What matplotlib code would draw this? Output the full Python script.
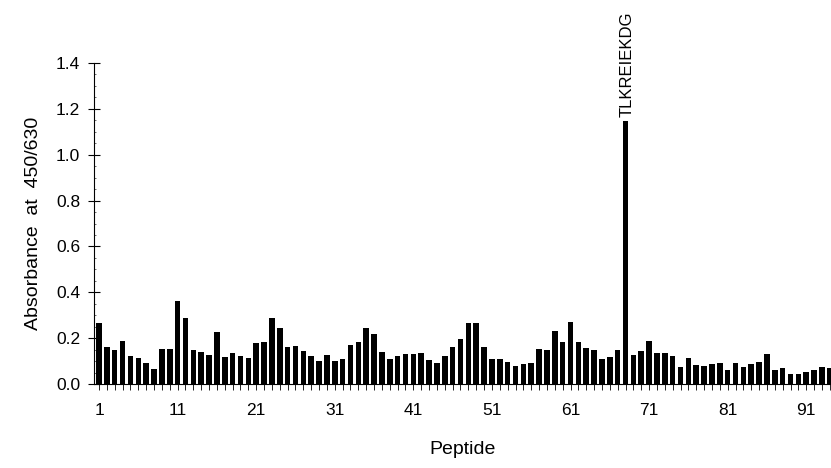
import matplotlib.pyplot as plt
from matplotlib.ticker import MultipleLocator, FixedLocator

plt.rcParams["font.family"] = ["Liberation Sans", "DejaVu Sans"]

# peptide number -> absorbance at 450/630
peptides = list(range(1, 95))
absorbance = [
    0.265, 0.160, 0.148, 0.188, 0.121, 0.115, 0.090, 0.064, 0.154, 0.151,
    0.360, 0.290, 0.148, 0.138, 0.125, 0.227, 0.118, 0.135, 0.124, 0.112,
    0.180, 0.185, 0.290, 0.246, 0.163, 0.167, 0.144, 0.121, 0.099, 0.125,
    0.102, 0.108, 0.172, 0.183, 0.243, 0.217, 0.141, 0.109, 0.124, 0.130,
    0.130, 0.135, 0.106, 0.090, 0.124, 0.163, 0.196, 0.266, 0.264, 0.163,
    0.111, 0.111, 0.098, 0.079, 0.089, 0.093, 0.151, 0.150, 0.231, 0.182,
    0.269, 0.182, 0.157, 0.150, 0.111, 0.116, 0.147, 1.145, 0.125, 0.144,
    0.186, 0.135, 0.137, 0.121, 0.073, 0.115, 0.084, 0.077, 0.087, 0.090,
    0.063, 0.093, 0.073, 0.087, 0.096, 0.131, 0.063, 0.068, 0.042, 0.045,
    0.052, 0.061, 0.073, 0.068,
]
peak_label = "TLKREIEKDG"
x_tick_labels = ["1", "11", "21", "31", "41", "51", "61", "71", "81", "91"]

fig = plt.figure(figsize=(8.31, 4.68), dpi=100)
ax = fig.add_axes([94 / 831, 1 - 384 / 468, 1 - 94 / 831, (384 - 63) / 468])

ax.bar(peptides, absorbance, width=0.7, color="black", zorder=2)

peak_index = absorbance.index(max(absorbance))
ax.text(
    peptides[peak_index] + 0.15,
    absorbance[peak_index] + 0.02,
    peak_label,
    rotation=90,
    ha="center",
    va="bottom",
    fontsize=12,
    clip_on=False,
)

ax.set_xlim(0.36, 94.15)
ax.set_ylim(0, 1.4)

ax.spines["top"].set_visible(False)
ax.spines["right"].set_visible(False)
ax.spines["left"].set_linewidth(0.8)
ax.spines["bottom"].set_linewidth(0.8)

ax.xaxis.set_major_locator(FixedLocator([int(t) for t in x_tick_labels]))
ax.set_xticklabels(x_tick_labels)
ax.xaxis.set_minor_locator(MultipleLocator(1))
ax.tick_params(axis="x", which="both", direction="out", length=4, width=0.6,
               labelsize=12.5, pad=10)

ax.yaxis.set_major_locator(MultipleLocator(0.2))
ax.yaxis.set_major_formatter(plt.FuncFormatter(lambda v, p: f"{v:.1f}"))
ax.yaxis.set_minor_locator(MultipleLocator(0.05))
ax.tick_params(axis="y", which="major", direction="inout", length=8, width=0.8,
               labelsize=12.5, pad=6)
ax.tick_params(axis="y", which="minor", direction="in", length=1.5, width=0.4)

ax.set_xlabel("Peptide", fontsize=14, labelpad=16)
ax.set_ylabel("Absorbance  at  450/630", fontsize=14, labelpad=10)

fig.savefig("out.png", dpi=100)
